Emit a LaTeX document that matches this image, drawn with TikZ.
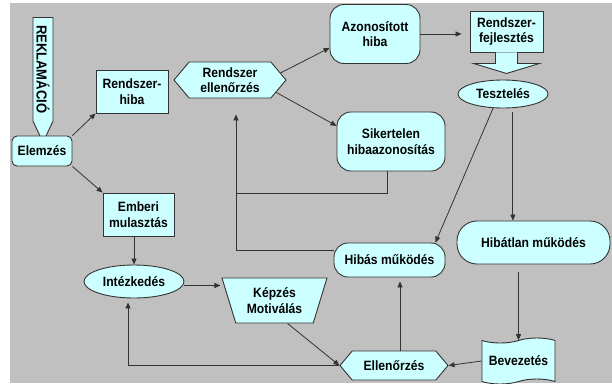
\documentclass[tikz,border=0pt]{standalone}
\usepackage{fontspec}
\setmainfont{Liberation Sans}[FakeStretch=0.9]
\usetikzlibrary{positioning,arrows.meta,calc,shapes.geometric,shapes.symbols}
\definecolor{boxFill}{HTML}{CCFFFF}
\definecolor{boxStroke}{HTML}{333333}
\definecolor{bgGray}{HTML}{C0C0C0}

\begin{document}
\begin{tikzpicture}[x=1pt, y=-1pt,
  font=\fontsize{13.5}{15.5}\selectfont\bfseries,
  base/.style ={draw=boxStroke, fill=boxFill, line width=0.9pt, align=center, inner sep=2pt},
  rect/.style ={base, minimum width=72pt, minimum height=43pt},
  rrect/.style={base, rounded corners=#1},
  oval/.style ={base, ellipse},
  hexa/.style ={base, signal, signal to=east and west, signal pointer angle=100},
  arr/.style  ={-{Triangle[length=6pt,width=5pt]}, draw=boxStroke, line width=0.8pt},
  link/.style ={draw=boxStroke, line width=0.8pt},
]
\useasboundingbox (0,0) rectangle (612,383);
\fill[bgGray] (10,3) rectangle (612,383);

% ==================== left column ====================
\node[base, signal, signal to=east, signal pointer angle=50, rotate=-90, anchor=west,
      minimum width=125pt, minimum height=20pt, inner sep=1pt,
      font=\fontsize{14.5}{16}\selectfont\bfseries] (rekl) at (43,17) {REKLAMÁCIÓ};
\node[rrect=5pt, minimum width=60pt, minimum height=30pt] (elem) at (42,151) {Elemzés};
\node[rect] (rhiba) at (132,91.5) {Rendszer-\\hiba};
\node[rect, minimum width=71pt] (emberi) at (138.5,214.5) {Emberi\\mulasztás};
\node[oval, minimum width=100pt, minimum height=33pt] (intezk) at (134,281.5) {Intézkedés};

% ==================== middle ====================
\node[hexa, minimum width=112pt, minimum height=36pt] (rellen) at (230,80) {Rendszer\\ellenőrzés};
\node[rrect=14pt, minimum width=90pt, minimum height=59pt] (azon) at (375,34) {Azonosított\\hiba};
\node[rrect=14pt, minimum width=108pt, minimum height=59pt] (sik) at (391,141.5) {Sikertelen\\hibaazonosítás};
\node[base, trapezium, trapezium left angle=115, trapezium right angle=115, trapezium stretches body,
      minimum width=105pt, minimum height=45pt] (kepzes) at (274.5,300.5) {Képzés\\Motiválás};
\node[rrect=14pt, minimum width=111pt, minimum height=34pt] (hibas) at (389.5,260) {Hibás működés};
\node[hexa, minimum width=108pt, minimum height=29pt] (ellen) at (394,365.5) {Ellenőrzés};

% ==================== right column ====================
\node[rect, minimum width=73pt, minimum height=41pt] (rfejl) at (506.5,31.5) {Rendszer-\\fejlesztés};
\filldraw[draw=boxStroke, fill=boxFill, line width=0.9pt]
  ($(rfejl.south)+(-11,0)$) -- ++(0,11) -- ++(-22,0) -- ($(rfejl.south)+(0,21)$)
  -- ($(rfejl.south)+(33,11)$) -- ++(-22,0) -- ($(rfejl.south)+(11,0)$);
\node[oval, minimum width=90pt, minimum height=28pt] (tesztel) at (503,94) {Tesztelés};
\node[rrect=20pt, minimum width=153pt, minimum height=43pt] (hibatlan) at (533.5,242.5) {Hibátlan működés};
\node[base, tape, minimum width=73pt, minimum height=46pt] (bevez) at (518.5,361) {Bevezetés};

% Arrows
\draw[arr] (elem.north east) -- (rhiba.south west);
\draw[arr] (elem.south east) -- (emberi.north west);
\draw[arr] (rellen.8) -- (azon.197);
\draw[arr] (rellen.-15) -- (sik.164);
\draw[arr, shorten >=8pt] (azon.east) -- (azon.east -| rfejl.west);
\draw[arr] (tesztel.235) -- ([xshift=-10pt]hibas.north east);
\draw[arr, shorten <=4pt] (tesztel.-55) -- (tesztel.-55 |- hibatlan.north);
\draw[arr, shorten <=8pt] (bevez.north |- hibatlan.south) -- (bevez.north);
\draw[arr] (bevez.west) -- (ellen.east);
\draw[arr] ($(ellen.north)+(6,0)$) -- ($(ellen.north |- hibas.south)+(6,4)$);
\draw[arr] ([xshift=13pt]kepzes.south) -- (ellen.west);
\draw[arr, shorten >=4pt] (ellen.west) -| ($(intezk.south)+(-6,0)$);
\draw[arr] (intezk.north |- emberi.south) -- (intezk.north);
\draw[arr] ($(intezk.east)+(0,4)$) -- ($(intezk.east -| kepzes.west)+(-8,4)$);

% loop back to Rendszer ellenorzes
\coordinate (jn) at ($(rellen.south)+(6,95)$);
\draw[link] ($(sik.south)+(-4,0)$) |- (jn);
\draw[arr, shorten >=16pt] ($(hibas.west)+(0,-10)$) -| ($(rellen.south)+(6,0)$);
\end{tikzpicture}
\end{document}
